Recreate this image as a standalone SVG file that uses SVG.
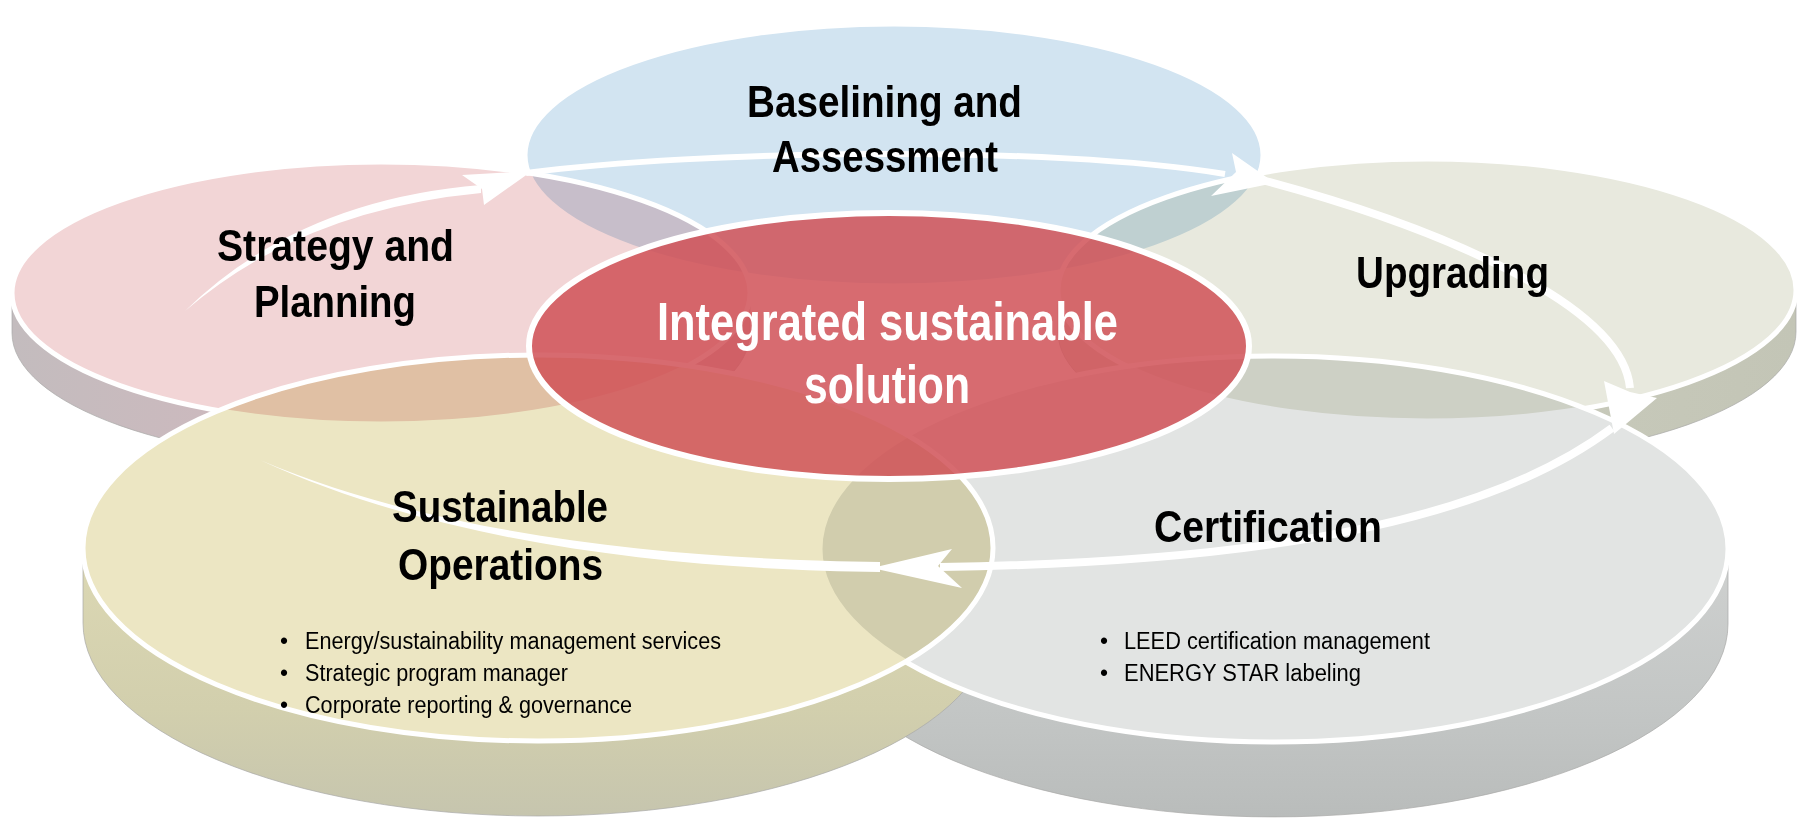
<svg xmlns="http://www.w3.org/2000/svg" width="1810" height="818" viewBox="0 0 1810 818">
<style>
.top{mix-blend-mode:multiply;stroke:none}
.rim{fill:none;stroke:#fff;stroke-width:5}
.side{stroke:#a9aaa8;stroke-width:1;stroke-opacity:0.7}
.t{font-family:"Liberation Sans Narrow","Liberation Sans",Arial,sans-serif;font-weight:bold;font-size:44px;fill:#000}
.c{font-family:"Liberation Sans Narrow","Liberation Sans",Arial,sans-serif;font-weight:bold;font-size:53px;fill:#fff}
.b{font-family:"Liberation Sans Narrow","Liberation Sans",Arial,sans-serif;font-size:23px;fill:#000}
.arw{fill:#fff;stroke:none}
.shaft{fill:none;stroke:#fff;stroke-linecap:butt}
</style>
<defs>
<clipPath id="noYellow"><path clip-rule="evenodd" d="M0,0H1810V818H0Z M83,548 A455,193 0 1 0 993,548 A455,193 0 1 0 83,548Z"/></clipPath>
<clipPath id="noCert"><path clip-rule="evenodd" d="M0,0H1810V818H0Z M820,549 A454,193 0 1 0 1728,549 A454,193 0 1 0 820,549Z"/></clipPath>
<linearGradient id="gPink" x1="0" y1="0" x2="1" y2="0"><stop offset="0" stop-color="#c3bcbe"/><stop offset="0.5" stop-color="#d3b7be"/><stop offset="1" stop-color="#cdb2b8"/></linearGradient>
<linearGradient id="gGreen" x1="0" y1="0" x2="1" y2="0"><stop offset="0" stop-color="#d0d2c3"/><stop offset="1" stop-color="#c3c5b6"/></linearGradient>
<linearGradient id="gYellow" x1="0" y1="0" x2="0" y2="1"><stop offset="0" stop-color="#dcd8b4"/><stop offset="0.6" stop-color="#d2cfad"/><stop offset="1" stop-color="#c6c5ae"/></linearGradient>
<linearGradient id="gCert" x1="0" y1="0" x2="0" y2="1"><stop offset="0" stop-color="#cfd1d0"/><stop offset="0.6" stop-color="#c3c6c5"/><stop offset="1" stop-color="#b9bcbb"/></linearGradient>
</defs>
<rect width="1810" height="818" fill="#fff"/>

<g id="sides">
<path class="side" clip-path="url(#noCert)" fill="url(#gGreen)" d="M1058,290 A369,131 0 0 0 1796,290 V332 A369,131 0 0 1 1058,332 Z"/>
<path class="side" clip-path="url(#noYellow)" fill="url(#gPink)" d="M12,293 A369,131 0 0 0 750,293 V333 A369,131 0 0 1 12,333 Z"/>
<path class="side" clip-path="url(#noYellow)" fill="url(#gCert)" d="M820,549 A454,193 0 0 0 1728,549 V624 A454,193 0 0 1 820,624 Z"/>
<path class="side" clip-path="url(#noCert)" fill="url(#gYellow)" d="M83,548 A455,193 0 0 0 993,548 V623 A455,193 0 0 1 83,623 Z"/>
</g>

<g id="node-baselining">
<ellipse class="top" cx="894" cy="155" rx="369" ry="131" fill="#d2e4f1"/>
<ellipse class="rim" cx="894" cy="155" rx="369" ry="131"/>
</g>
<g id="node-strategy">
<ellipse class="top" cx="381" cy="293" rx="369" ry="131" fill="#f2d5d6"/>
<ellipse class="rim" cx="381" cy="293" rx="369" ry="131"/>
</g>
<g id="node-upgrading">
<ellipse class="top" cx="1427" cy="290" rx="369" ry="131" fill="#e8e9de"/>
<ellipse class="rim" cx="1427" cy="290" rx="369" ry="131"/>
</g>
<g id="node-certification">
<ellipse class="top" cx="1274" cy="549" rx="454" ry="193" fill="#e2e4e3"/>
<ellipse class="rim" cx="1274" cy="549" rx="454" ry="193"/>
</g>
<g id="node-operations">
<ellipse class="top" cx="538" cy="548" rx="455" ry="193" fill="#ece6c3"/>
<ellipse class="rim" cx="538" cy="548" rx="455" ry="193"/>
</g>
<g id="node-center">
<ellipse cx="889" cy="346" rx="360" ry="133" fill="#d05157" fill-opacity="0.85" stroke="#fff" stroke-width="6"/>
</g>

<g id="connectors">
<path class="arw" d="M185,311 Q298,200 481,185 L481,193 Q302,210 185,311 Z"/>
<path class="arw" d="M532,171 L462,175 L482,189 L484,205 Z"/>
<path class="shaft" stroke-width="6" d="M526,173 C700,150 1050,145 1225,174"/>
<path class="arw" d="M1275,183 L1232,153 L1236,172 L1211,196 Z"/>
<path class="shaft" stroke-width="8" d="M1262,180 C1420,222 1622,300 1630,388"/>
<path class="arw" d="M1614,434 L1604,381 L1630,392 L1657,398 Z"/>
<path class="shaft" stroke-width="8" d="M1612,428 C1500,512 1300,562 940,567"/>
<path class="arw" d="M872,568 L952,549 L938,566 L962,588 Z"/>
<path class="arw" d="M880,562 C700,560 450,541 260,460 C452,549 700,570 880,572 Z"/>
</g>

<g id="labels">
<g id="label-baselining">
<text class="t" x="747" y="117" textLength="275" lengthAdjust="spacingAndGlyphs">Baselining and</text>
<text class="t" x="772" y="172" textLength="226" lengthAdjust="spacingAndGlyphs">Assessment</text>
</g>
<g id="label-strategy">
<text class="t" x="217" y="261" textLength="237" lengthAdjust="spacingAndGlyphs">Strategy and</text>
<text class="t" x="254" y="317" textLength="162" lengthAdjust="spacingAndGlyphs">Planning</text>
</g>
<g id="label-upgrading">
<text class="t" x="1356" y="288" textLength="193" lengthAdjust="spacingAndGlyphs">Upgrading</text>
</g>
<g id="label-center">
<text class="c" x="657" y="340" textLength="461" lengthAdjust="spacingAndGlyphs">Integrated sustainable</text>
<text class="c" x="804" y="403" textLength="166" lengthAdjust="spacingAndGlyphs">solution</text>
</g>
<g id="label-operations">
<text class="t" x="392" y="522" textLength="216" lengthAdjust="spacingAndGlyphs">Sustainable</text>
<text class="t" x="398" y="580" textLength="205" lengthAdjust="spacingAndGlyphs">Operations</text>
<text class="b" x="280" y="649">•</text>
<text class="b" x="305" y="649" textLength="416" lengthAdjust="spacingAndGlyphs">Energy/sustainability management services</text>
<text class="b" x="280" y="681">•</text>
<text class="b" x="305" y="681" textLength="263" lengthAdjust="spacingAndGlyphs">Strategic program manager</text>
<text class="b" x="280" y="713">•</text>
<text class="b" x="305" y="713" textLength="327" lengthAdjust="spacingAndGlyphs">Corporate reporting &amp; governance</text>
</g>
<g id="label-certification">
<text class="t" x="1154" y="542" textLength="228" lengthAdjust="spacingAndGlyphs">Certification</text>
<text class="b" x="1100" y="649">•</text>
<text class="b" x="1124" y="649" textLength="306" lengthAdjust="spacingAndGlyphs">LEED certification management</text>
<text class="b" x="1100" y="681">•</text>
<text class="b" x="1124" y="681" textLength="237" lengthAdjust="spacingAndGlyphs">ENERGY STAR labeling</text>
</g>
</g>
</svg>
